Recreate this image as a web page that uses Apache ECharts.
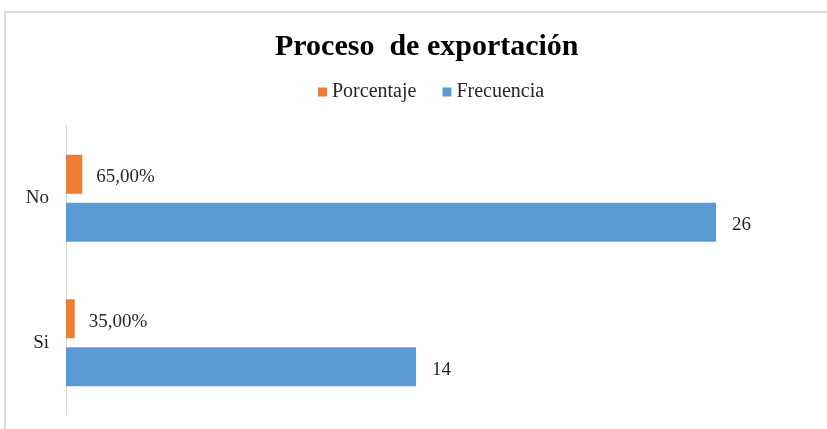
<!DOCTYPE html>
<html>
<head>
<meta charset="utf-8">
<script src="https://cdn.jsdelivr.net/npm/echarts@6/dist/echarts.min.js"></script>
<style>
  html, body { margin: 0; padding: 0; background: #fff; }
  #chart { width: 827px; height: 429px; }
</style>
</head>
<body>
<div id="chart"></div>
<script>
// Proceso de exportación
var categorias = ['Si', 'No'];
var porcentaje = [0.35, 0.65];
var frecuencia = [14, 26];

var serif = '"Liberation Serif", "Times New Roman", serif';

var myChart = echarts.init(document.getElementById('chart'));
myChart.setOption({
    animation: false,
    title: {
        text: 'Proceso  de exportación',
        left: 270,
        top: 27,
        textStyle: {
            fontFamily: serif,
            fontSize: 30,
            fontWeight: 'bold',
            color: '#000'
        }
    },
    legend: {
        data: ['Porcentaje', 'Frecuencia'],
        top: 77,
        left: 313,
        itemWidth: 9,
        itemHeight: 9,
        itemGap: 26,
        icon: 'rect',
        textStyle: {
            fontFamily: serif,
            fontSize: 20,
            color: '#262626'
        }
    },
    graphic: [
        {
            type: 'rect',
            shape: { x: 5, y: 12, width: 900, height: 500 },
            style: { fill: 'none', stroke: '#d9d9d9', lineWidth: 2 },
            silent: true
        }
    ],
    grid: {
        left: 66,
        right: 11,
        top: 126,
        bottom: 14
    },
    xAxis: {
        type: 'value',
        min: 0,
        max: 30,
        show: false
    },
    yAxis: {
        type: 'category',
        data: categorias,
        axisLine: { lineStyle: { color: '#d9d9d9', width: 1 } },
        axisTick: { show: false },
        axisLabel: {
            margin: 17,
            fontFamily: serif,
            fontSize: 19,
            color: '#262626',
            padding: [6, 0, 0, 0]
        }
    },
    series: [
        {
            name: 'Porcentaje',
            type: 'bar',
            data: porcentaje,
            barWidth: 39,
            barGap: '23%',
            itemStyle: { color: '#ED7D31' },
            label: {
                show: true,
                position: 'right',
                distance: 14,
                offset: [0, 3],
                fontFamily: serif,
                fontSize: 19,
                color: '#262626',
                formatter: function (p) {
                    return (p.value * 100).toFixed(2).replace('.', ',') + '%';
                }
            }
        },
        {
            name: 'Frecuencia',
            type: 'bar',
            data: frecuencia,
            barWidth: 39,
            itemStyle: { color: '#5B9BD5' },
            label: {
                show: true,
                position: 'right',
                distance: 16,
                offset: [0, 3],
                fontFamily: serif,
                fontSize: 19,
                color: '#262626'
            }
        }
    ]
});
</script>
</body>
</html>
